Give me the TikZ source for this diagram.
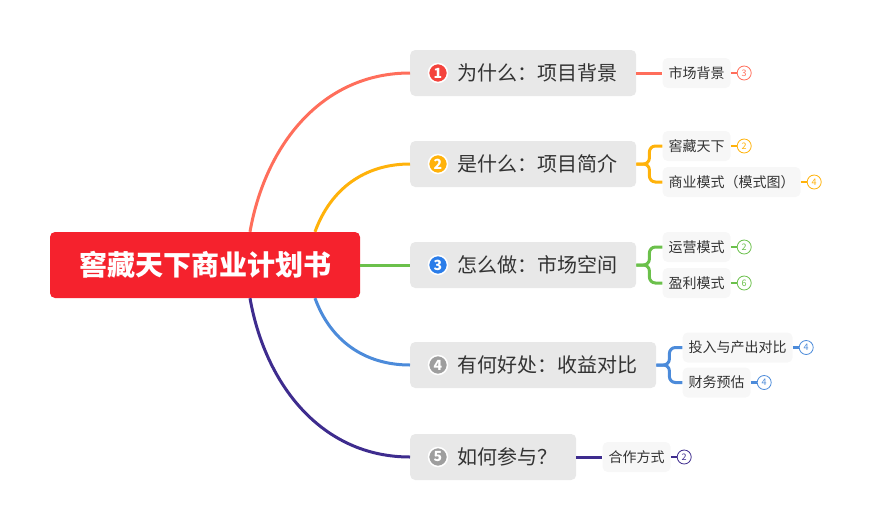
\documentclass[tikz,border=0pt]{standalone}
\usepackage{fontspec}
\setmainfont{Noto Sans CJK SC}
\usepackage{xcolor}
\usepackage{tikz}
\usetikzlibrary{positioning, calc}
\definecolor{rootred}{HTML}{F5222D}
\definecolor{topicgray}{HTML}{E8E8E8}
\definecolor{subgray}{HTML}{F7F7F7}
\definecolor{textgray}{HTML}{333333}
\definecolor{bred}{HTML}{FF6E5B}
\definecolor{borange}{HTML}{FFB20A}
\definecolor{bgreen}{HTML}{6BC04B}
\definecolor{bblue}{HTML}{4C8BDA}
\definecolor{bpurple}{HTML}{3E2C8E}
\definecolor{dred}{HTML}{F4433C}
\definecolor{dblue}{HTML}{2B7DE9}
\definecolor{dgray}{HTML}{9E9E9E}
\tikzstyle{root} = [rectangle, rounded corners=5pt, minimum width=310pt, minimum height=66pt, text centered, fill=rootred, text=white, font=\fontsize{28}{28}\selectfont\bfseries]
\tikzstyle{topic} = [rectangle, rounded corners=5pt, minimum height=46pt, inner xsep=18.5pt, fill=topicgray, text=textgray, anchor=west, font=\fontsize{20}{20}\selectfont]
\tikzstyle{subtopic} = [rectangle, rounded corners=5pt, minimum height=30pt, inner xsep=6pt, fill=subgray, text=textgray, font=\fontsize{14}{14}\selectfont]
\tikzstyle{numdot} = [circle, minimum size=19pt, inner sep=0pt, draw=white, line width=1.5pt, text=white, font=\fontsize{14}{14}\selectfont\bfseries]
\tikzstyle{badge} = [circle, minimum size=14pt, inner sep=0pt, fill=white, line width=0.8pt, font=\fontsize{9}{9}\selectfont]
\tikzstyle{branch} = [line width=3pt]
\tikzstyle{stub} = [line width=2.5pt]
\begin{document}
\begin{tikzpicture}[x=1pt, y=-1pt]
\useasboundingbox (0,0) rectangle (872,530);

\node (root) [root] at (205,265) {窖藏天下商业计划书};

\node (t1) [topic] at (410,73) {\hspace{29pt}为什么：项目背景};
\node (t2) [topic] at (410,164) {\hspace{29pt}是什么：项目简介};
\node (t3) [topic] at (410,265) {\hspace{29pt}怎么做：市场空间};
\node (t4) [topic] at (410,365) {\hspace{29pt}有何好处：收益对比};
\node (t5) [topic] at (410,457) {\hspace{29pt}如何参与？};

\node (n1) [numdot, fill=dred] at ($(t1.west)+(28,0)$) {1};
\node (n2) [numdot, fill=borange] at ($(t2.west)+(28,0)$) {2};
\node (n3) [numdot, fill=dblue] at ($(t3.west)+(28,0)$) {3};
\node (n4) [numdot, fill=dgray] at ($(t4.west)+(28,0)$) {4};
\node (n5) [numdot, fill=dgray] at ($(t5.west)+(28,0)$) {5};

\node (s11) [subtopic, right=26pt of t1] {市场背景};
\node (s21) [subtopic, right=26pt of t2, yshift=18pt] {窖藏天下};
\node (s22) [subtopic, right=26pt of t2, yshift=-18pt] {商业模式（模式图）};
\node (s31) [subtopic, right=26pt of t3, yshift=18pt] {运营模式};
\node (s32) [subtopic, right=26pt of t3, yshift=-18pt] {盈利模式};
\node (s41) [subtopic, right=26pt of t4, yshift=17.5pt] {投入与产出对比};
\node (s42) [subtopic, right=26pt of t4, yshift=-17.5pt] {财务预估};
\node (s51) [subtopic, right=26pt of t5] {合作方式};

\node (b11) [badge, draw=bred, text=bred, right=6pt of s11] {3};
\node (b21) [badge, draw=borange, text=borange, right=6pt of s21] {2};
\node (b22) [badge, draw=borange, text=borange, right=6pt of s22] {4};
\node (b31) [badge, draw=bgreen, text=bgreen, right=6pt of s31] {2};
\node (b32) [badge, draw=bgreen, text=bgreen, right=6pt of s32] {6};
\node (b41) [badge, draw=bblue, text=bblue, right=6pt of s41] {4};
\node (b42) [badge, draw=bblue, text=bblue, right=6pt of s42] {4};
\node (b51) [badge, draw=bpurple, text=bpurple, right=6pt of s51] {2};

\draw [branch, bred] ($(root.north)+(45,0)$) to[out=80, in=180] (t1.west);
\draw [branch, borange] ($(root.north)+(110,0)$) to[out=70, in=180] (t2.west);
\draw [branch, bgreen] (root.east) -- (t3.west);
\draw [branch, bblue] ($(root.south)+(110,0)$) to[out=-70, in=180] (t4.west);
\draw [branch, bpurple] ($(root.south)+(45,0)$) to[out=-80, in=180] (t5.west);

\draw [branch, bred] (t1.east) -- (s11.west);
\draw [branch, borange, rounded corners=6pt] (t2.east) -- ++(13,0) |- (s21.west);
\draw [branch, borange, rounded corners=6pt] (t2.east) -- ++(13,0) |- (s22.west);
\draw [branch, bgreen, rounded corners=6pt] (t3.east) -- ++(13,0) |- (s31.west);
\draw [branch, bgreen, rounded corners=6pt] (t3.east) -- ++(13,0) |- (s32.west);
\draw [branch, bblue, rounded corners=6pt] (t4.east) -- ++(13,0) |- (s41.west);
\draw [branch, bblue, rounded corners=6pt] (t4.east) -- ++(13,0) |- (s42.west);
\draw [branch, bpurple] (t5.east) -- (s51.west);

\draw [stub, bred] (s11.east) -- (b11.west);
\draw [stub, borange] (s21.east) -- (b21.west);
\draw [stub, borange] (s22.east) -- (b22.west);
\draw [stub, bgreen] (s31.east) -- (b31.west);
\draw [stub, bgreen] (s32.east) -- (b32.west);
\draw [stub, bblue] (s41.east) -- (b41.west);
\draw [stub, bblue] (s42.east) -- (b42.west);
\draw [stub, bpurple] (s51.east) -- (b51.west);

\end{tikzpicture}
\end{document}
